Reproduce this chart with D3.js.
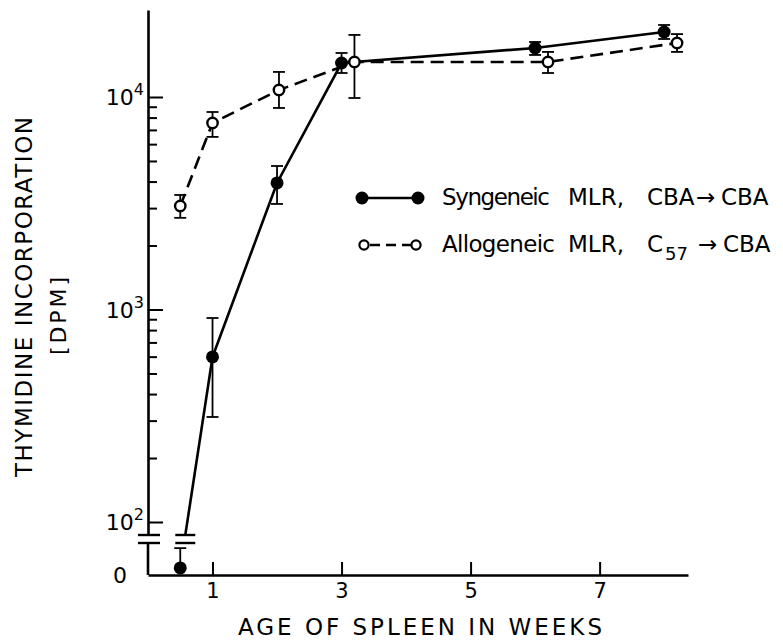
<!DOCTYPE html>
<html>
<head>
<meta charset="utf-8">
<script src="https://cdn.jsdelivr.net/npm/d3@7"></script>
<style>
  body { margin: 0; background: #fff; }
  svg { display: block; }
  text { font-family: "DejaVu Sans", sans-serif; fill: #000; }
</style>
</head>
<body>
<svg id="chart" width="783" height="641"></svg>
<script>
'use strict';

// Syngeneic MLR, CBA -> CBA (filled dots). First point sits below the axis break (~0)
var synWeeks = [0.5, 1, 2, 3, 6, 8];
var synDpm   = [11, 598, 3940, 14450, 17010, 20230];
var synHi    = [42, 912, 4735, 16110, 18150, 21820];
var synLo    = [11, 312, 3138, 12970, 15770, 18750];

// Allogeneic MLR, C57 -> CBA (open circles)
var alloWeeks = [0.5, 1, 2.03, 3.2, 6.2, 8.2];
var alloDpm   = [3070, 7550, 10790, 14620, 14620, 17950];
var alloHi    = [3460, 8500, 13120, 19590, 16300, 19770];
var alloLo    = [2700, 6490, 8880, 9890, 12970, 16300];

var xTicks = [1, 3, 5, 7];
var yMajor = [100, 1000, 10000];
var yMajorExp = ['2', '3', '4'];
var yMinor = [200, 300, 400, 500, 600, 700, 800, 900,
              2000, 3000, 4000, 5000, 6000, 7000, 8000, 9000];

var svg = d3.select('#chart');

// layout
var axisX = 148, zeroY = 575, breakTop = 535, breakBot = 543, topY = 10;

var x = d3.scaleLinear().domain([0, 8.37]).range([axisX, 688]);

// log part: 10^2 .. 10^4 calibration, then stretched to the drawn extent
var yLog = d3.scaleLog().domain([100, 10000]).range([522, 97]);
yLog.domain([yLog.invert(breakTop), yLog.invert(topY)]).range([breakTop, topY]);
var logMin = yLog.domain()[0];

// linear part below the break, holds the "0" level
var yLow = d3.scaleLinear().domain([0, 50]).range([zeroY, breakBot]);

function yPos(v) { return v < logMin ? yLow(v) : yLog(v); }

var g = svg.append('g');

// ---- axes ----
// upper (log) y axis with major / minor ticks pointing inward
g.append('g')
    .attr('transform', 'translate(' + axisX + ',0)')
    .call(d3.axisLeft(yLog).tickValues(yMajor).tickSize(-15).tickSizeOuter(0).tickFormat(''))
    .call(function(a) {
      a.select('.domain').attr('stroke-width', 2.6);
      a.selectAll('.tick line').attr('stroke-width', 2);
    });
g.append('g')
    .attr('transform', 'translate(' + axisX + ',0)')
    .call(d3.axisLeft(yLog).tickValues(yMinor).tickSize(-9).tickSizeOuter(0).tickFormat(''))
    .call(function(a) {
      a.select('.domain').remove();
      a.selectAll('.tick line').attr('stroke-width', 2);
    });

// lower y axis piece (below the break)
g.append('line')
    .attr('x1', axisX).attr('x2', axisX)
    .attr('y1', yLow.range()[1]).attr('y2', yLow.range()[0])
    .attr('stroke', '#000').attr('stroke-width', 2.6);

// break marks on the y axis
[breakTop, breakBot].forEach(function(by) {
  g.append('line')
      .attr('x1', axisX - 10).attr('x2', axisX + 12)
      .attr('y1', by).attr('y2', by)
      .attr('stroke', '#000').attr('stroke-width', 2.4);
});

// x axis
g.append('g')
    .attr('transform', 'translate(0,' + zeroY + ')')
    .call(d3.axisBottom(x).tickValues(xTicks).tickSize(-13).tickSizeOuter(0).tickPadding(8))
    .call(function(a) {
      a.select('.domain').attr('stroke-width', 2.6);
      a.selectAll('.tick line').attr('stroke-width', 2);
      a.selectAll('.tick text')
          .attr('font-family', '"DejaVu Sans", sans-serif')
          .attr('font-size', 21)
          .attr('fill', '#000');
    });

// y tick labels: 10^n and 0
yMajor.forEach(function(v, i) {
  var t = g.append('text')
      .attr('x', 144)
      .attr('y', yLog(v) + 8)
      .attr('text-anchor', 'end')
      .attr('font-size', 22);
  t.append('tspan').text('10');
  t.append('tspan').attr('dy', -10).attr('font-size', 16).text(yMajorExp[i]);
});
g.append('text')
    .attr('x', 120).attr('y', yLow(0) + 8)
    .attr('text-anchor', 'middle')
    .attr('font-size', 22)
    .text('0');

// axis titles
g.append('text')
    .attr('x', 420).attr('y', 635)
    .attr('text-anchor', 'middle')
    .attr('font-size', 23)
    .attr('textLength', 364)
    .text('AGE  OF  SPLEEN  IN  WEEKS');

g.append('text')
    .attr('transform', 'translate(32,297) rotate(-90)')
    .attr('text-anchor', 'middle')
    .attr('font-size', 23)
    .attr('textLength', 360)
    .text('THYMIDINE  INCORPORATION');

g.append('text')
    .attr('transform', 'translate(66,316) rotate(-90)')
    .attr('text-anchor', 'middle')
    .attr('font-size', 22)
    .attr('textLength', 78)
    .text('[DPM]');

// ---- data ----
function pts(weeks, vals, hi, lo) {
  return weeks.map(function(w, i) {
    return { x: x(w), y: yPos(vals[i]), v: vals[i], hi: hi[i], lo: lo[i] };
  });
}
var syn = pts(synWeeks, synDpm, synHi, synLo);
var allo = pts(alloWeeks, alloDpm, alloHi, alloLo);

var line = d3.line().x(function(d) { return d.x; }).y(function(d) { return d.y; });

// error bars
function errorBars(data) {
  var eb = g.append('g').attr('stroke', '#000').attr('stroke-width', 1.8);
  data.forEach(function(d) {
    var yh = yPos(d.hi), yl = yPos(d.lo);
    eb.append('line').attr('x1', d.x).attr('x2', d.x).attr('y1', yh).attr('y2', yl);
    eb.append('line').attr('x1', d.x - 6).attr('x2', d.x + 6).attr('y1', yh).attr('y2', yh);
    if (d.lo < d.v) eb.append('line').attr('x1', d.x - 6).attr('x2', d.x + 6).attr('y1', yl).attr('y2', yl);
  });
}
errorBars(syn);
errorBars(allo);

// allogeneic dashed line
g.append('path')
    .datum(allo)
    .attr('d', line)
    .attr('fill', 'none')
    .attr('stroke', '#000')
    .attr('stroke-width', 2.6)
    .attr('stroke-dasharray', '13,7');

// syngeneic solid line, broken where it crosses the axis break
var synAbove = syn.filter(function(d) { return d.v >= logMin; });
g.append('path')
    .datum(synAbove)
    .attr('d', line)
    .attr('fill', 'none')
    .attr('stroke', '#000')
    .attr('stroke-width', 2.6);

for (var i = 0; i < syn.length - 1; i++) {
  var p0 = syn[i], p1 = syn[i + 1];
  if (p0.v < logMin && p1.v >= logMin) {
    var t = (breakTop - p1.y) / (p0.y - p1.y);
    var ix = p1.x + (p0.x - p1.x) * t;
    g.append('line')
        .attr('x1', ix).attr('y1', breakTop)
        .attr('x2', p1.x).attr('y2', p1.y)
        .attr('stroke', '#000').attr('stroke-width', 2.6);
    [breakTop, breakBot].forEach(function(by) {
      g.append('line')
          .attr('x1', ix - 10).attr('x2', ix + 10)
          .attr('y1', by).attr('y2', by)
          .attr('stroke', '#000').attr('stroke-width', 2.4);
    });
  }
}

// markers
g.append('g').selectAll('circle')
    .data(allo).enter().append('circle')
    .attr('cx', function(d) { return d.x; })
    .attr('cy', function(d) { return d.y; })
    .attr('r', 5.2)
    .attr('fill', '#fff')
    .attr('stroke', '#000')
    .attr('stroke-width', 2.4);

g.append('g').selectAll('circle')
    .data(syn).enter().append('circle')
    .attr('cx', function(d) { return d.x; })
    .attr('cy', function(d) { return d.y; })
    .attr('r', 6.5)
    .attr('fill', '#000');

// ---- legend ----
var leg = g.append('g');
leg.append('line')
    .attr('x1', 362).attr('x2', 418).attr('y1', 198).attr('y2', 198)
    .attr('stroke', '#000').attr('stroke-width', 2.6);
leg.selectAll('.ls').data([362, 418]).enter().append('circle')
    .attr('cx', function(d) { return d; }).attr('cy', 198).attr('r', 6.5).attr('fill', '#000');

leg.append('line')
    .attr('x1', 366).attr('x2', 414).attr('y1', 245).attr('y2', 245)
    .attr('stroke', '#000').attr('stroke-width', 2.6)
    .attr('stroke-dasharray', '10,6').attr('stroke-dashoffset', -4);
leg.selectAll('.la').data([364, 416]).enter().append('circle')
    .attr('cx', function(d) { return d; }).attr('cy', 245).attr('r', 4.6)
    .attr('fill', '#fff').attr('stroke', '#000').attr('stroke-width', 2.2);

var t1 = leg.append('text').attr('y', 205).attr('font-size', 23);
t1.append('tspan').attr('x', 442).attr('textLength', 108).text('Syngeneic');
t1.append('tspan').attr('x', 568).text('MLR,');
t1.append('tspan').attr('x', 647).text('CBA');
t1.append('tspan').attr('x', 696).text('\u2192');
t1.append('tspan').attr('x', 721).text('CBA');

var t2 = leg.append('text').attr('y', 252).attr('font-size', 23);
t2.append('tspan').attr('x', 442).attr('textLength', 113).text('Allogeneic');
t2.append('tspan').attr('x', 568).text('MLR,');
t2.append('tspan').attr('x', 647).text('C');
t2.append('tspan').attr('x', 665).attr('dy', 8).attr('font-size', 18).text('57');
t2.append('tspan').attr('x', 698).attr('dy', -8).text('\u2192');
t2.append('tspan').attr('x', 723).text('CBA');
</script>
</body>
</html>
